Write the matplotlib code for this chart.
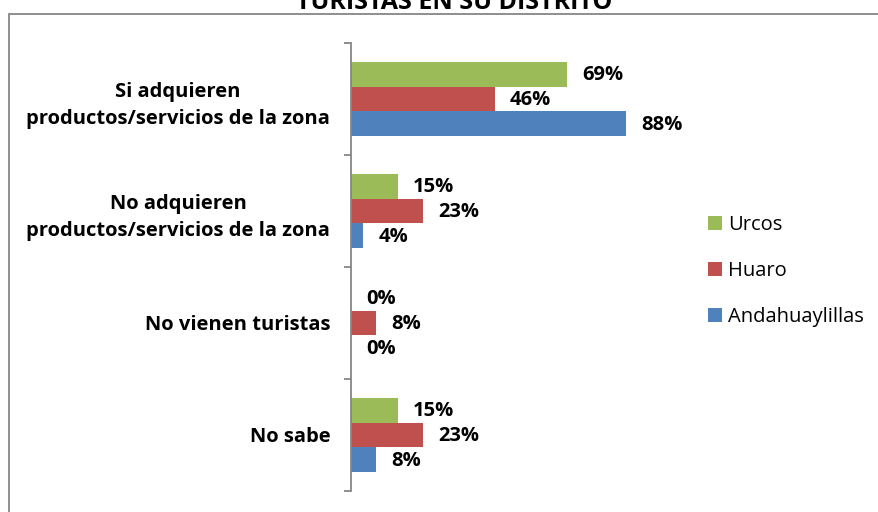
import matplotlib
matplotlib.use("Agg")
import matplotlib.pyplot as plt
from matplotlib.patches import Rectangle
import numpy as np

plt.rcParams['font.family'] = ['Open Sans', 'DejaVu Sans']

categories = ["Si adquieren\nproductos/servicios de la zona",
              "No adquieren\nproductos/servicios de la zona",
              "No vienen turistas",
              "No sabe"]
series_names = ["Urcos", "Huaro", "Andahuaylillas"]
urcos = [69, 15, 0, 15]
huaro = [46, 23, 8, 23]
andahuaylillas = [88, 4, 0, 8]
colors = ["#9BBB59", "#C0504D", "#4F81BD"]
title = "TURISTAS EN SU DISTRITO"

W, H = 879, 512
fig = plt.figure(figsize=(W / 100, H / 100), dpi=100)
ax = fig.add_axes([351 / W, (H - 491) / H, 312.5 / W, 448 / H])

n = len(categories)
y = np.arange(n)
bh = 0.223
data = [urcos, huaro, andahuaylillas]
offsets = [-bh, 0, bh]
handles = []
for vals, off, col, name in zip(data, offsets, colors, series_names):
    bars = ax.barh(y + off, vals, height=bh, color=col, label=name, edgecolor='none')
    handles.append(bars)
    for yy, v in zip(y + off, vals):
        ax.annotate(f"{v}%", xy=(v, yy), xytext=(11, -1), textcoords='offset points',
                    ha='left', va='center', fontsize=14.5, fontweight='bold', color='black')

ax.set_xlim(0, 100)
ax.set_ylim(n - 0.5, -0.5)

for s in ['top', 'right', 'bottom']:
    ax.spines[s].set_visible(False)
ax.spines['left'].set_color('#868686')
ax.spines['left'].set_linewidth(1.3)
ax.set_xticks([])
ax.set_yticks(np.arange(n + 1) - 0.5)
ax.set_yticklabels([])
ax.tick_params(axis='y', which='major', length=5, width=1.3, color='#868686', direction='out')
ax.set_yticks(y, minor=True)
ax.set_yticklabels(categories, minor=True, fontsize=14.5, fontweight='bold', ha='right',
                   multialignment='center', linespacing=1.5)
ax.tick_params(axis='y', which='minor', length=0, pad=15)

leg = fig.legend(handles=handles, labels=series_names, loc='upper left',
                 bbox_to_anchor=(700 / W, 1 - 207 / H), frameon=False, fontsize=14.5,
                 handlelength=0.7, handleheight=0.7, handletextpad=0.3, labelspacing=1.3,
                 borderaxespad=0)

fig.text(454 / W, 1 - 9 / H, title, ha='center', va='baseline', fontsize=18, fontweight='bold')

fig.patches.append(Rectangle((9 / W, -0.1), 1.2, (1 - 14 / H) + 0.1, transform=fig.transFigure,
                             fill=False, edgecolor='#868686', linewidth=1.3))

fig.savefig("out.png", dpi=100)
